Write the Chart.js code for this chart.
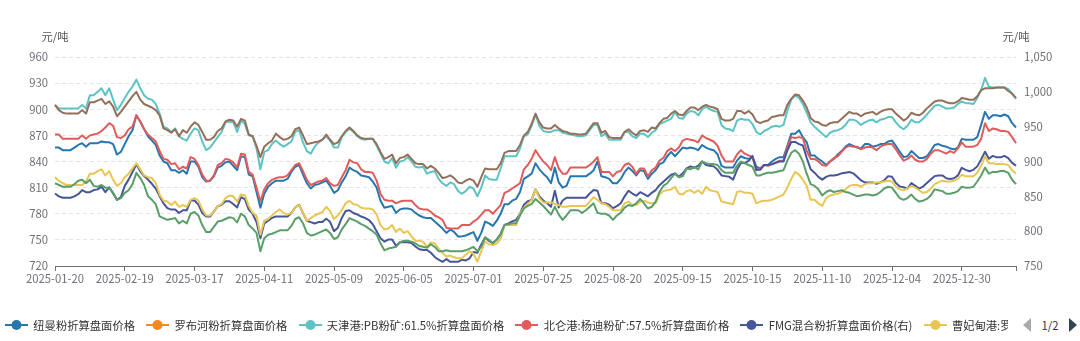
<!DOCTYPE html>
<html lang="zh-CN">
<head>
<meta charset="utf-8">
<title>铁矿石折算盘面价格</title>
<script src="https://cdn.jsdelivr.net/npm/chart.js@4.4.1/dist/chart.umd.min.js"></script>
<style>
  html, body { margin: 0; padding: 0; background: #fff; }
  body { width: 1080px; height: 341px; overflow: hidden; position: relative;
         font-family: 'Noto Sans CJK SC', 'Noto Sans', sans-serif; }
  #chart { position: absolute; left: 0; top: 0; }
  .unit { position: absolute; top: 27px; font-size: 11.3px; line-height: 18px; color: #555;
          transform: translateX(-50%); white-space: nowrap; }
  #legend { position: absolute; left: 5px; top: 316px; width: 1003px; height: 18px;
            overflow: hidden; white-space: nowrap; font-size: 11.3px; color: #333; }
  .item { display: inline-flex; align-items: center; height: 18px; margin-right: 8.6px; }
  .item svg { margin-right: 5.3px; flex: none; }
  #pager { position: absolute; left: 1023px; top: 316px; height: 18px; display: flex;
           align-items: center; font-size: 11.3px; color: #333; background: #fff; }
  .arrow { width: 0; height: 0; border-top: 7.5px solid transparent; border-bottom: 7.5px solid transparent; }
  .arrow.prev { border-right: 8.6px solid #aaa; margin-right: 10.5px; }
  .arrow.next { border-left: 8.6px solid #2f4554; margin-left: 10.6px; }
</style>
</head>
<body>
<canvas id="chart" width="1080" height="341"></canvas>
<div class="unit" style="left:55px">元/吨</div>
<div class="unit" style="left:1016px">元/吨</div>
<div id="legend"></div>
<div id="pager"><span class="arrow prev"></span><span>1/2</span><span class="arrow next"></span></div>
<script>
/* ============================================================
   DATA  (one value per working day, 2025-01-20 .. 2026-01-20)
   ============================================================ */

const xTicks    = ['2025-01-20', '2025-02-19', '2025-03-17', '2025-04-11', '2025-05-09', '2025-06-05', '2025-07-01',
                   '2025-07-25', '2025-08-20', '2025-09-15', '2025-10-15', '2025-11-10', '2025-12-04', '2025-12-30'];
const tickEvery = 18;
const pointCount = 249;

// 纽曼粉 (left axis)
const newman = [
  856,856,853,853,853,856,859,861,857,861,861,861,863,862,862,860,848,851,860,869,876,893,886,877,869,864,859,847,840,838,830,830,827,830,826,840,
  840,834,822,817,818,823,833,835,839,840,835,830,846,845,825,823,805,787,803,811,815,818,818,818,820,828,834,836,825,815,809,813,814,816,818,812,
  804,807,816,823,833,830,828,824,823,822,817,810,795,787,788,789,781,785,786,786,785,781,778,776,775,775,771,767,763,758,762,759,754,754,755,757,
  759,749,758,771,769,766,772,780,791,791,795,797,805,820,823,826,838,831,826,822,815,833,816,810,812,823,823,823,823,823,826,830,840,823,822,
  820,815,815,820,828,833,829,824,830,829,820,826,830,837,839,846,851,846,851,856,855,856,855,853,859,856,854,853,848,835,833,833,833,841,846,844,
  843,845,834,832,836,836,840,843,845,845,858,872,872,876,868,862,847,847,843,840,836,840,843,848,852,857,860,858,856,855,860,860,857,858,860,
  860,863,864,858,851,845,846,852,848,844,844,846,852,859,860,858,857,855,854,856,866,865,865,865,868,882,897,889,893,893,892,894,892,884,879
];

// 罗布河粉: nothing plotted in this view
const robeRiver = [];

// 天津港 PB粉矿 61.5%
const pbTianjin = [
  905,901,901,901,901,901,901,905,901,916,916,920,924,916,924,911,899,905,913,920,926,934,924,916,912,911,906,895,880,878,874,878,869,866,864,872,
  878,876,863,853,856,862,868,874,885,886,885,874,887,883,870,869,855,831,851,853,860,864,860,857,860,863,874,876,862,852,849,857,862,865,869,864,
  856,856,868,874,878,874,869,866,865,866,866,858,849,840,838,844,833,840,841,845,840,834,833,834,826,828,829,820,815,812,816,814,806,803,806,811,
  809,800,810,824,820,819,819,832,846,846,846,846,855,869,871,881,894,881,875,874,874,876,876,873,872,871,870,869,869,870,876,882,882,869,872,
  865,865,865,865,874,874,869,867,872,872,868,873,876,883,885,887,889,897,890,889,895,898,897,893,900,903,900,898,897,882,878,877,875,887,889,888,
  888,883,874,871,875,877,880,881,880,882,898,911,916,913,906,896,885,880,876,872,868,873,875,876,878,882,888,888,886,882,885,887,888,885,888,
  889,891,891,885,880,877,881,888,885,885,889,894,899,904,905,903,901,901,902,906,909,907,907,906,913,922,936,926,925,925,925,925,923,918,912
];

// 北仑港 杨迪粉矿 57.5%
const yandiBeilun = [
  871,871,866,866,866,866,866,870,866,870,871,872,875,879,884,881,868,867,870,877,880,893,886,877,871,867,863,852,843,842,837,838,831,834,832,845,
  843,836,825,818,818,824,836,838,843,842,839,833,849,848,828,825,810,794,808,815,819,821,822,822,824,830,836,838,829,819,813,815,817,818,821,815,
  812,813,822,830,842,839,838,831,828,828,827,818,803,796,795,795,792,794,795,795,795,790,786,785,785,782,778,776,773,764,763,763,763,767,767,767,
  771,774,779,784,784,780,785,790,804,806,809,812,815,831,836,843,853,846,840,836,830,845,832,826,826,833,833,833,833,833,836,840,845,828,828,
  828,823,828,829,836,838,834,826,832,832,823,830,833,841,844,852,855,852,856,864,866,865,864,862,870,867,865,863,858,847,840,840,840,848,853,849,
  847,845,830,832,836,835,837,839,841,841,856,868,867,868,867,852,843,843,840,836,835,840,844,846,851,856,858,857,857,854,856,857,856,853,857,
  859,860,860,854,847,841,843,847,842,840,840,843,849,853,853,851,849,852,850,855,862,857,857,857,859,866,884,875,878,877,875,875,874,868,861
];

// FMG混合粉 (right axis)
const fmgBlend = [
  854,850,848,848,848,850,853,859,856,856,859,860,864,856,863,854,845,849,865,874,885,896,886,879,874,868,861,850,840,833,831,831,826,830,830,844,
  844,838,826,821,821,828,836,838,843,843,839,834,849,846,831,825,813,790,811,815,819,821,821,821,821,826,834,838,826,815,813,811,813,813,818,813,
  800,805,819,829,830,826,824,821,819,816,810,800,790,785,788,788,779,784,784,784,783,778,774,773,773,769,763,759,756,760,756,756,756,759,758,761,
  770,769,781,791,786,783,788,796,809,811,814,816,825,838,843,845,860,850,844,840,835,858,834,844,848,848,848,848,848,848,854,859,858,840,840,
  838,833,836,840,850,858,854,851,856,853,850,855,859,866,871,876,881,883,878,883,890,893,891,894,900,895,894,893,888,880,879,878,874,888,898,898,
  901,908,888,888,895,895,896,898,900,900,916,928,928,925,923,905,889,884,878,874,878,880,880,881,883,884,885,883,878,873,870,870,870,868,870,
  873,879,878,869,864,863,861,869,865,861,864,869,874,879,880,880,876,875,876,880,891,888,886,888,893,903,914,904,908,906,906,908,905,898,894
];

// 曹妃甸港 罗伊山粉
const roymanCfd = [
  822,818,815,813,813,813,813,813,817,826,826,829,831,824,829,819,812,815,822,826,832,838,831,824,822,821,815,802,795,794,790,794,788,790,788,796,
  798,795,785,778,778,782,789,791,798,801,800,794,802,801,789,781,778,756,772,774,778,782,785,781,779,781,787,790,781,772,775,778,780,782,788,783,
  774,778,784,792,795,791,790,787,786,786,785,779,767,762,763,767,759,763,758,760,754,749,749,748,742,747,746,740,735,731,732,730,729,729,733,737,
  734,725,737,748,745,744,746,751,767,767,767,767,780,787,791,796,808,798,793,793,793,791,790,788,788,789,789,789,789,789,794,799,796,792,791,
  788,784,784,784,792,794,790,790,794,795,793,792,792,802,806,807,808,811,803,802,806,807,804,807,803,811,807,806,805,794,793,792,791,805,806,804,
  804,803,792,794,795,795,796,798,800,802,810,820,828,825,819,812,796,796,792,789,798,801,802,803,805,808,812,813,813,811,814,815,815,816,816,
  817,818,817,811,808,807,809,812,810,807,804,805,809,814,816,818,817,817,818,820,825,823,823,823,827,835,846,838,838,837,837,837,836,830,826
];

// legend page 2 series
const pbQingdao = [
  905,899,896,895,895,895,895,899,895,908,908,910,912,906,909,903,892,897,903,909,915,920,911,906,904,902,899,893,878,876,873,877,869,876,873,880,
  885,882,874,865,865,868,875,878,886,888,887,880,889,887,871,869,858,845,857,861,864,872,868,865,866,869,877,879,870,860,861,862,863,865,871,865,
  860,862,869,875,879,875,870,867,866,866,866,860,851,843,845,848,838,844,845,848,843,838,837,837,832,835,832,827,821,822,824,821,816,815,818,820,
  818,811,822,832,831,831,831,838,850,852,852,852,859,870,874,883,895,885,879,878,878,882,878,875,874,872,872,871,871,872,878,884,884,873,875,
  868,867,867,867,874,877,873,870,875,876,874,879,878,884,889,890,895,898,894,893,898,902,902,899,903,905,903,902,900,889,887,887,889,898,898,895,
  898,894,886,884,886,887,891,892,893,893,905,912,917,916,910,902,890,886,885,882,881,884,885,885,889,893,897,895,895,892,895,896,897,894,897,
  899,900,900,895,891,887,890,896,894,893,896,901,905,909,910,910,908,907,907,909,913,912,911,911,915,922,924,924,924,925,925,925,921,918,913
];

const ssfJingtang = [
  815,813,811,811,811,814,818,819,815,819,812,811,813,810,810,804,796,798,804,807,814,827,821,813,800,796,791,777,775,773,774,775,769,772,769,780,
  782,778,767,759,759,765,771,772,774,776,775,770,780,777,767,763,758,737,752,756,757,759,761,761,761,766,774,776,769,758,755,756,758,760,762,758,
  751,753,762,768,775,773,771,768,766,763,760,756,746,738,740,741,742,747,749,749,748,746,743,742,741,745,742,737,737,738,737,737,737,737,738,740,
  742,737,742,753,750,746,750,756,767,768,769,769,778,786,789,791,797,793,789,784,779,788,779,773,778,784,784,784,781,784,788,792,781,780,780,
  778,773,778,781,787,790,789,792,797,792,786,788,794,805,812,815,821,826,822,823,832,831,834,831,840,838,837,837,836,830,827,827,827,835,840,838,
  836,834,824,824,826,827,827,828,829,830,841,850,853,849,840,826,814,812,808,801,805,807,805,806,807,805,804,802,800,801,802,802,801,802,805,
  809,811,810,804,798,796,798,802,797,794,795,797,801,808,807,806,803,803,804,806,811,810,810,811,817,824,833,826,828,828,829,829,827,819,814
];

/* ============================================================
   SERIES + LEGEND
   ============================================================ */

const AXIS = '#6e7079';
const SPLIT = '#e0e6f1';

const series = [
  { label: '纽曼粉折算盘面价格',                data: newman,      color: '#2577ae', legend: true },
  { label: '罗布河粉折算盘面价格',              data: robeRiver,   color: '#f5891f', legend: true },
  { label: '天津港:PB粉矿:61.5%折算盘面价格',   data: pbTianjin,   color: '#5ec3c3', legend: true },
  { label: '北仑港:杨迪粉矿:57.5%折算盘面价格', data: yandiBeilun, color: '#e05c5c', legend: true },
  { label: 'FMG混合粉折算盘面价格(右)',         data: fmgBlend,    color: '#475599', legend: true, axis: 'y1' },
  { label: '曹妃甸港:罗伊山粉:62%折算盘面价格', data: roymanCfd,   color: '#e9c653', legend: true },
  { label: '青岛港:PB粉矿:61.5%折算盘面价格',   data: pbQingdao,   color: '#94705a', legend: false },
  { label: '京唐港:超特粉:56.5%折算盘面价格',   data: ssfJingtang, color: '#5a9e6a', legend: false },
];

const legendEl = document.getElementById('legend');
legendEl.innerHTML = series.filter(s => s.legend).map(s => `
  <span class="item">
    <svg width="23" height="14" viewBox="0 0 23 14">
      <line x1="0" y1="7" x2="23" y2="7" stroke="${s.color}" stroke-width="2"/>
      <circle cx="11.5" cy="7" r="5" fill="${s.color}"/>
    </svg>${s.label}</span>`).join('');

/* ============================================================
   CHART
   ============================================================ */

const labels = Array.from({ length: pointCount }, (_, i) => i % tickEvery === 0 ? xTicks[i / tickEvery] : '');

Chart.defaults.font.family = "'Noto Sans CJK SC', 'Noto Sans', sans-serif";
Chart.defaults.font.size = 11.3;
Chart.defaults.color = AXIS;

new Chart(document.getElementById('chart'), {
  type: 'line',
  data: {
    labels,
    datasets: series.map((s, i) => ({
      label: s.label,
      data: s.data,
      yAxisID: s.axis || 'y',
      borderColor: s.color,
      backgroundColor: s.color,
      borderWidth: 2,
      borderJoinStyle: 'round',
      pointRadius: 0,
      pointHoverRadius: 0,
      tension: 0,
      fill: false,
      order: -i,
    })),
  },
  options: {
    responsive: false,
    animation: false,
    devicePixelRatio: 1,
    layout: { padding: { top: 57, left: 0, right: 0, bottom: 0 } },
    plugins: { legend: { display: false }, tooltip: { enabled: false } },
    events: [],
    scales: {
      x: {
        type: 'category',
        offset: false,
        grid: {
          drawOnChartArea: false,
          drawTicks: true,
          tickLength: 5,
          color: ctx => (ctx.index % tickEvery === 0 || ctx.index === pointCount - 1) ? AXIS : 'transparent',
        },
        border: { display: true, color: AXIS, width: 1 },
        ticks: { autoSkip: false, maxRotation: 0, minRotation: 0, padding: 1, color: AXIS,
                 callback: (v, i) => labels[i] },
        afterFit: s => { s.height = 75; },
      },
      y: {
        position: 'left',
        min: 720, max: 960,
        ticks: { stepSize: 30, padding: 7, color: AXIS },
        grid: { drawTicks: false, color: ctx => (ctx.tick && ctx.tick.value === 720) ? 'transparent' : SPLIT },
        border: { display: false, dash: [4, 3] },
        afterFit: s => { s.width = 55; },
      },
      y1: {
        position: 'right',
        min: 750, max: 1050,
        ticks: { stepSize: 50, padding: 8, color: AXIS, callback: v => v.toLocaleString('en-US') },
        grid: { display: false, drawTicks: false },
        border: { display: false },
        afterFit: s => { s.width = 64; },
      },
    },
  },
});
</script>
</body>
</html>
